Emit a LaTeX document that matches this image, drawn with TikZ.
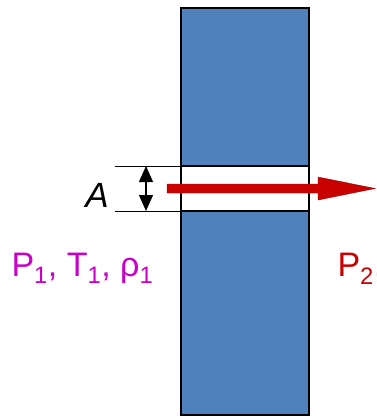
\documentclass[tikz,border=0pt]{standalone}
\usepackage{fontspec}
\setmainfont{Liberation Sans}
\usetikzlibrary{arrows.meta}
\definecolor{bluparete}{RGB}{79,129,189}
\definecolor{rossoflusso}{RGB}{200,0,0}
\definecolor{magenta1}{RGB}{200,0,200}
\begin{document}
\begin{tikzpicture}[x=1pt,y=-1pt,
    font=\fontsize{34}{40}\selectfont,
    parete/.style={fill=bluparete,draw=black,line width=1.3pt},
    foro/.style={fill=white,draw=black,line width=1.1pt},
    quota/.style={line width=1pt},
    doppia/.style={line width=1.2pt,{Triangle[length=16pt,width=14pt]}-{Triangle[length=16pt,width=14pt]}},
    freccia/.style={fill=rossoflusso,draw=rossoflusso!80!black,line width=0.4pt}]

  \useasboundingbox (0,0) rectangle (376,417);

  % parete e foro
  \draw[parete] (181,8) rectangle (309,415);
  \draw[foro] (181,166) rectangle (309,211);
  \draw[line width=2pt] (181,211) -- (239,211);

  % linee di quota
  \coordinate (qa1) at (115,166);
  \coordinate (qa2) at (181,166);
  \coordinate (qb1) at (115,211);
  \coordinate (qb2) at (181,211);
  \draw[quota] (qa1) -- (qa2);
  \draw[quota] (qb1) -- (qb2);
  \coordinate (da) at (146,166);
  \coordinate (db) at (146,211);
  \draw[doppia] (da) -- (db);
  \node[font=\fontsize{35}{40}\selectfont\itshape] (area) at (97,195) {A};

  % flusso
  \draw[freccia] (167,184) -- (318,184) -- (318,177) -- (375,188.5)
                 -- (318,200) -- (318,193) -- (167,193) -- cycle;

  % stati
  \node[text=magenta1,anchor=base west] (stato1) at (8,276)
       {P\textsubscript{1}, T\textsubscript{1}, ρ\textsubscript{1}};
  \node[text=rossoflusso,anchor=base west] (stato2) at (334,276)
       {P\textsubscript{2},};

\end{tikzpicture}
\end{document}
